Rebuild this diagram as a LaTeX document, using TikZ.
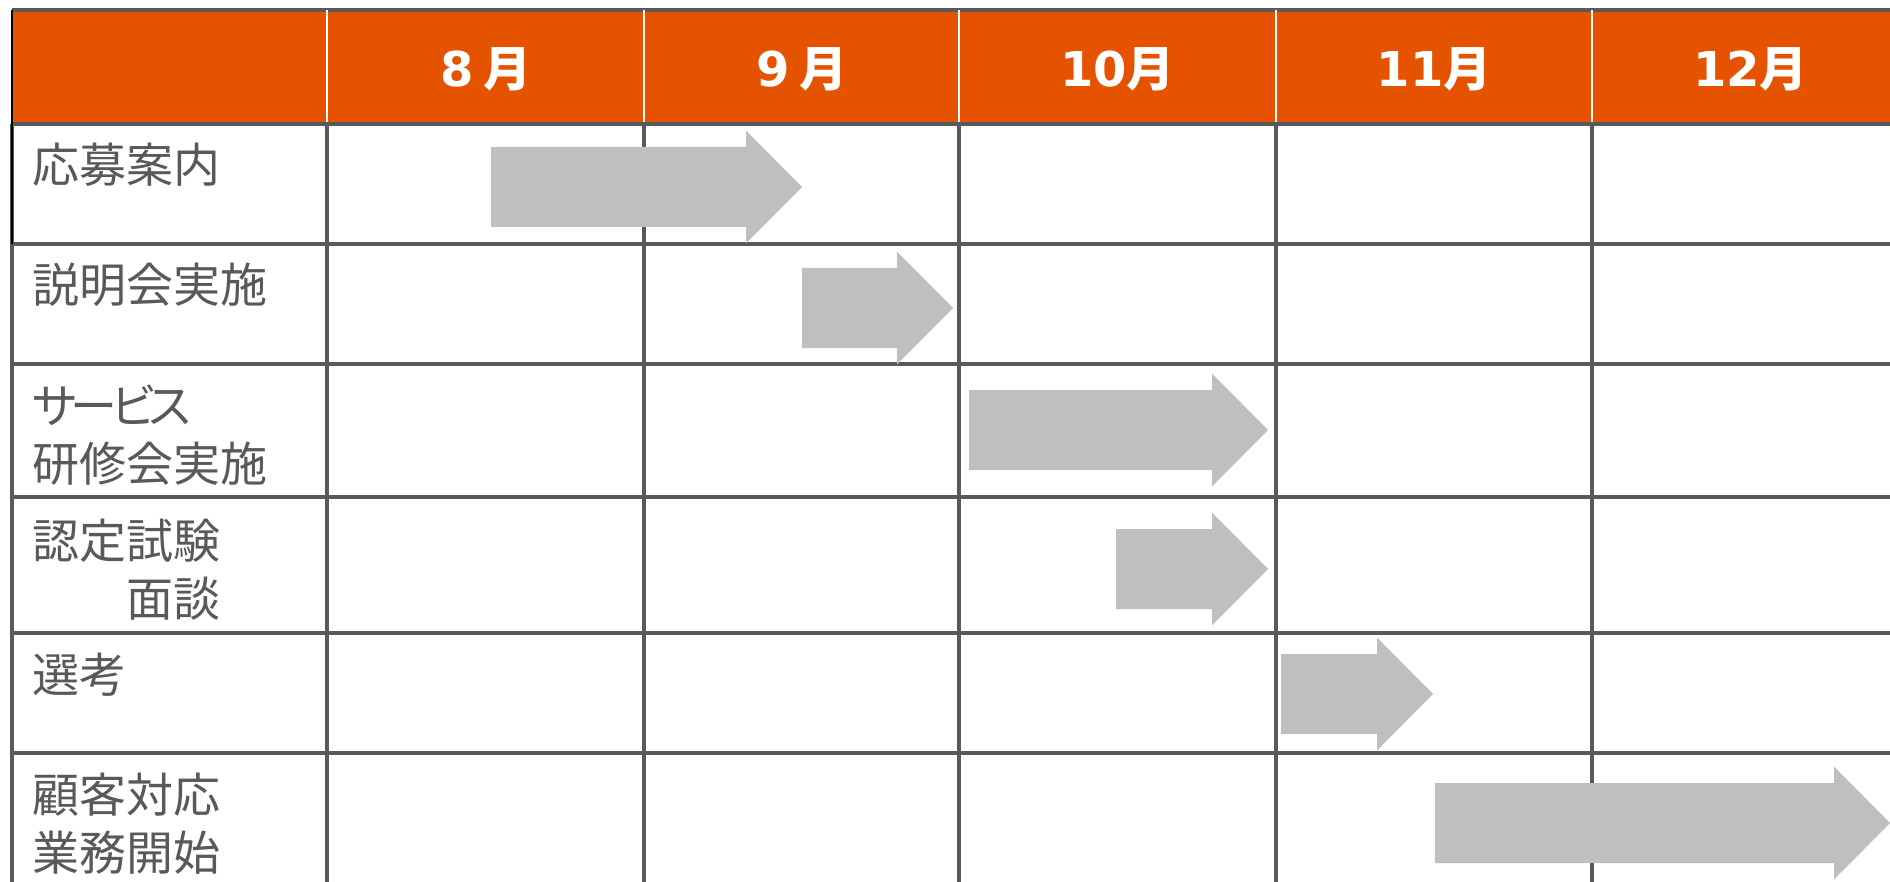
\documentclass[tikz,border=0pt]{standalone}
\usepackage{fontspec}
\newfontfamily\jpfont{Noto Sans CJK JP}
\newfontfamily\jppalt{Noto Sans CJK JP}[RawFeature=+palt,LetterSpace=-12]
\newfontfamily\digfont{DejaVu Sans}
\definecolor{headorange}{HTML}{E55300}
\definecolor{gridgray}{HTML}{595959}
\definecolor{arrowgray}{HTML}{BFBFBF}
\definecolor{textgray}{HTML}{595959}
\newcommand\GanttArrow[3]{%
  \fill[garrow] (#1,#3-40) -- (#2-56,#3-40) -- (#2-56,#3-56.5) -- (#2,#3)
    -- (#2-56,#3+56.5) -- (#2-56,#3+40) -- (#1,#3+40) -- cycle;}
\begin{document}
\begin{tikzpicture}[x=0.5pt,y=-0.5pt,
  gridline/.style={draw=gridgray,line width=1.6pt},
  headsep/.style={draw=white,line width=1pt},
  garrow/.style={fill=arrowgray},
  rowlabel/.style={anchor=north west,inner sep=0pt,text=textgray,align=left,
    font=\jpfont\fontsize{23.5pt}{29pt}\selectfont},
  monthlabel/.style={inner sep=0pt,text=white,font=\fontsize{24pt}{28pt}\selectfont\bfseries}]
\useasboundingbox (0,0) rectangle (1890,882);
\fill[white] (0,0) rectangle (1890,882);
% header
\fill[headorange] (12,10) rectangle (1890,124);
\draw[gridline] (12,10) -- (1890,10);
\foreach \cx in {327,644,959,1276,1592} \draw[headsep] (\cx,10) -- (\cx,124);
% grid
\foreach \ry in {124,244,364,497,633,753} \draw[gridline] (12,\ry) -- (1890,\ry);
\foreach \cx in {327,644,959,1276,1592} \draw[gridline] (\cx,124) -- (\cx,882);
\draw[gridline] (12,124) -- (12,882);
\draw[black,line width=1.2pt] (12,10) -- (12,244);
% arrows
\GanttArrow{491}{802}{187}
\GanttArrow{802}{953}{308}
\GanttArrow{969}{1268}{430}
\GanttArrow{1116}{1268}{569}
\GanttArrow{1281}{1433}{694}
\GanttArrow{1435}{1890}{823}
% month labels
\node[monthlabel] (m8) at (485.5,69) {{\digfont 8}\hspace{0.2em}{\jpfont 月}};
\node[monthlabel] (m9) at (801.5,69) {{\digfont 9}\hspace{0.2em}{\jpfont 月}};
\node[monthlabel] (m10) at (1117.5,69) {{\digfont 10}{\jpfont 月}};
\node[monthlabel] (m11) at (1434,69) {{\digfont 11}{\jpfont 月}};
\node[monthlabel] (m12) at (1750.5,69) {{\digfont 12}{\jpfont 月}};
% row labels
\node[rowlabel] (r1) at (32,143) {応募案内};
\node[rowlabel] (r2) at (32,263) {説明会実施};
\node[rowlabel] (r3) at (32,384) {{\jppalt サービス}\\研修会実施};
\node[rowlabel] (r4) at (32,519) {認定試験\\\hspace*{2em}面談};
\node[rowlabel] (r5) at (32,653) {選考};
\node[rowlabel] (r6) at (32,773) {顧客対応\\業務開始};
\end{tikzpicture}
\end{document}
